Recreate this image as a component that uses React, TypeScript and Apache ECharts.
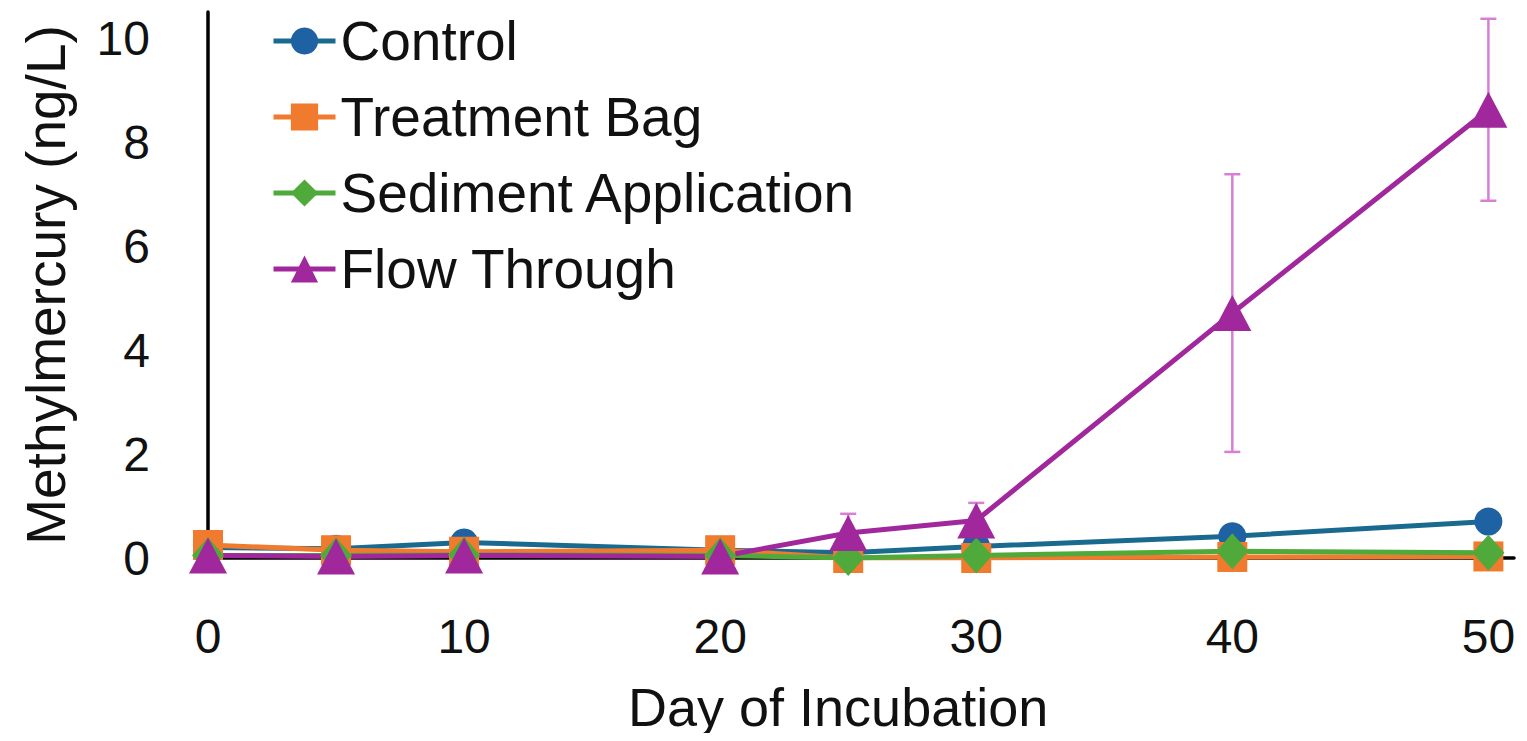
import React, { useEffect, useRef } from "react";
import * as echarts from "echarts";

const days = [0, 5, 10, 20, 25, 30, 40, 50];
const controlVals = [0.2, 0.18, 0.3, 0.15, 0.1, 0.22, 0.42, 0.7];
const treatmentVals = [0.25, 0.15, 0.12, 0.15, 0.0, 0.0, 0.02, 0.03];
const sedimentVals = [0.05, 0.05, 0.06, 0.05, 0.0, 0.05, 0.13, 0.1];
const flowVals = [0.05, 0.03, 0.05, 0.03, 0.48, 0.72, 4.71, 8.62];
const flowErr = [0, 0, 0, 0, 0.37, 0.34, 2.67, 1.75];

const xTicks = [0, 10, 20, 30, 40, 50];
const yTicks = [0, 2, 4, 6, 8, 10];

const FONT = "Liberation Sans, Arial, sans-serif";

export default function App() {
  const ref = useRef<HTMLDivElement>(null);

  useEffect(() => {
    if (!ref.current) return;
    const chart = echarts.init(ref.current, null, { renderer: "svg" });

    const pair = (vals: number[]) => days.map((d, i) => [d, vals[i]]);
    const errData = days
      .map((d, i) => [d, flowVals[i], flowErr[i]])
      .filter((r) => r[2] > 0);

    const mk = (name: string, vals: number[], color: string, lineColor: string, symbol: string, size: any) => ({
      name,
      type: "line",
      data: pair(vals),
      symbol,
      symbolSize: size,
      showAllSymbol: true,
      lineStyle: { color: lineColor, width: 5 },
      itemStyle: { color },
      z: 3,
    });

    chart.setOption({
      animation: false,
      backgroundColor: "#ffffff",
      grid: { left: 208, right: 13, top: 12, bottom: 183, containLabel: false },
      legend: {
        orient: "vertical",
        left: 266,
        top: 8,
        itemWidth: 62,
        itemHeight: 34,
        itemGap: 20,
        lineStyle: { width: 5 },
        textStyle: { fontFamily: FONT, fontSize: 55, color: "#111", lineHeight: 56 },
        data: ["Control", "Treatment Bag", "Sediment Application", "Flow Through"],
      },
      xAxis: {
        type: "value",
        min: 0,
        max: 51,
        interval: 10,
        axisLine: { show: true, onZero: true, lineStyle: { color: "#000", width: 3.5 } },
        axisTick: { show: false },
        splitLine: { show: false },
        axisLabel: {
          showMaxLabel: false,
          margin: 54,
          fontFamily: FONT,
          fontSize: 48,
          color: "#111",
          formatter: (v: number) => (xTicks.includes(v) ? String(v) : ""),
        },
      },
      yAxis: {
        type: "value",
        min: 0,
        max: 10.5,
        interval: 2,
        name: "Methylmercury (ng/L)",
        nameLocation: "middle",
        nameGap: 135,
        nameTextStyle: { fontFamily: FONT, fontSize: 55, color: "#111" },
        axisLine: { show: true, lineStyle: { color: "#000", width: 3.5 } },
        axisTick: { show: false },
        splitLine: { show: false },
        axisLabel: {
          showMaxLabel: false,
          margin: 58,
          fontFamily: FONT,
          fontSize: 48,
          color: "#111",
          formatter: (v: number) => (yTicks.includes(v) ? String(v) : ""),
        },
      },
      graphic: [
        {
          type: "text",
          left: 628,
          top: 680,
          style: {
            text: "Day of Incubation",
            fontFamily: FONT,
            fontSize: 54,
            fill: "#111",
          },
        },
      ],
      series: [
        {
          name: "flowErr",
          type: "custom",
          z: 1,
          data: errData,
          renderItem: (params: any, api: any) => {
            const x = api.value(0);
            const y = api.value(1);
            const e = api.value(2);
            const top = api.coord([x, y + e]);
            const bot = api.coord([x, y - e]);
            const style = { stroke: "#d77fd6", lineWidth: 2.5 };
            return {
              type: "group",
              children: [
                { type: "line", shape: { x1: top[0], y1: top[1], x2: bot[0], y2: bot[1] }, style },
                { type: "line", shape: { x1: top[0] - 8, y1: top[1], x2: top[0] + 8, y2: top[1] }, style },
                { type: "line", shape: { x1: bot[0] - 8, y1: bot[1], x2: bot[0] + 8, y2: bot[1] }, style },
              ],
            };
          },
        },
        mk("Control", controlVals, "#1f62a3", "#1a6a90", "circle", 28),
        mk("Treatment Bag", treatmentVals, "#f07b2e", "#f07b2e", "rect", 30),
        mk("Sediment Application", sedimentVals, "#4fa93b", "#4fa93b", "diamond", [32, 36]),
        mk("Flow Through", flowVals, "#a1289c", "#a1289c", "triangle", [38, 36]),
      ],
    });

    return () => chart.dispose();
  }, []);

  return <div ref={ref} style={{ width: 1527, height: 741, margin: -8 }} />;
}
